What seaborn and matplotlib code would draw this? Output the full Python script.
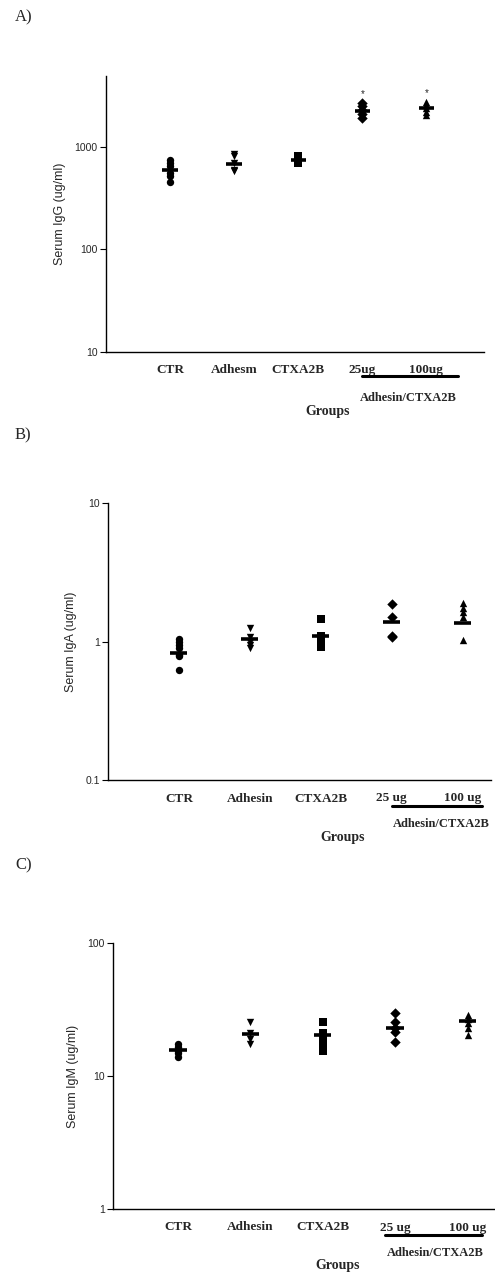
import matplotlib
matplotlib.use("Agg")
import matplotlib.pyplot as plt
import seaborn as sns
import pandas as pd
import numpy as np

sns.set_theme(style="white")
plt.rcParams['font.family'] = ['Liberation Sans', 'DejaVu Sans']

# --- dados ---
markers = ['o', 'v', 's', 'D', '^']

# A) IgG
igg_labels = ['CTR', 'Adhesm', 'CTXA2B', '25ug', '100ug']
igg_ctr = [740, 700, 650, 560, 520, 450]
igg_adh = [860, 820, 700, 600, 580]
igg_ctx = [820, 780, 750, 720, 690]
igg_25 = [2700, 2500, 2300, 2100, 1900]
igg_100 = [2750, 2550, 2400, 2200, 2050]
igg_means = [590, 680, 750, 2220, 2370]
igg_star = [None, None, None, 3300, 3350]

# B) IgA
iga_labels = ['CTR', 'Adhesin', 'CTXA2B', '25 ug', '100 ug']
iga_ctr = [1.05, 1.0, 0.95, 0.9, 0.8, 0.78, 0.62]
iga_adh = [1.25, 1.08, 1.0, 0.95, 0.9]
iga_ctx = [1.45, 1.1, 1.02, 0.97, 0.92]
iga_25 = [1.88, 1.5, 1.1, 1.08]
iga_100 = [1.9, 1.75, 1.62, 1.5, 1.02]
iga_means = [0.82, 1.05, 1.1, 1.39, 1.37]

# C) IgM
igm_labels = ['CTR', 'Adhesin', 'CTXA2B', '25 ug', '100 ug']
igm_ctr = [17.5, 16.5, 15.5, 15.0, 14.0]
igm_adh = [25.5, 21.0, 19.0, 17.5]
igm_ctx = [25.5, 21.0, 19.0, 17.0, 15.5]
igm_25 = [30.0, 25.5, 23.0, 21.5, 18.0]
igm_100 = [29.0, 27.0, 25.0, 23.0, 20.5]
igm_means = [15.7, 20.7, 20.3, 23.0, 25.9]


def make_df(labels, groups):
    rows = []
    for lab, vals in zip(labels, groups):
        for v in vals:
            rows.append({'group': lab, 'value': v})
    return pd.DataFrame(rows)


def draw_panel(fig, rect, labels, groups, means, ylim, yticks, yticklabels,
               ylabel, xlim, panel, panel_xy, bar_x, bar_y, sub_x, sub_y,
               groups_xy, stars=None):
    ax = fig.add_axes(rect)
    df = make_df(labels, groups)
    for lab, m in zip(labels, markers):
        sub = df[df['group'] == lab]
        sns.stripplot(data=sub, x='group', y='value', order=labels, marker=m,
                      color='black', jitter=False, size=5.3, ax=ax)
    ax.set_yscale('log')
    # linha da média
    pos = np.arange(len(labels))
    ax.hlines(means, pos - 0.12, pos + 0.12, color='black', linewidth=2.6)
    if stars is not None:
        for i, s in enumerate(stars):
            if s is not None:
                ax.text(i, s, '*', ha='center', va='center', fontsize=7)
    ax.set_ylim(*ylim)
    ax.set_xlim(*xlim)
    ax.set_yticks(yticks)
    ax.set_yticklabels(yticklabels, fontsize=7.5)
    ax.yaxis.set_minor_locator(matplotlib.ticker.NullLocator())
    ax.tick_params(axis='y', left=True, length=4, width=0.8, pad=2, color='black')
    ax.tick_params(axis='x', bottom=False, length=0, pad=9)
    ax.set_xticks(range(len(labels)))
    ax.set_xticklabels(labels, fontsize=9.5, fontweight='bold', family='Liberation Serif')
    ax.set_xlabel('')
    ax.set_ylabel(ylabel, fontsize=9, labelpad=6)
    for side in ['top', 'right']:
        ax.spines[side].set_visible(False)
    for side in ['left', 'bottom']:
        ax.spines[side].set_color('black')
        ax.spines[side].set_linewidth(1.0)
    # barra sob 25 ug / 100 ug
    ax.plot(bar_x, [bar_y, bar_y], color='black', linewidth=2.2,
            transform=ax.get_xaxis_transform(), clip_on=False)
    ax.text(sub_x, sub_y, 'Adhesin/CTXA2B', transform=ax.get_xaxis_transform(),
            ha='center', va='center', fontsize=9, fontweight='bold', family='Liberation Serif')
    fig.text(groups_xy[0], groups_xy[1], 'Groups', ha='center', va='center',
             fontsize=10, fontweight='bold', family='Liberation Serif')
    fig.text(panel_xy[0], panel_xy[1], panel, ha='left', va='center',
             fontsize=12, family='Liberation Serif')
    return ax


W, H = 495, 1273
fig = plt.figure(figsize=(W / 100, H / 100), dpi=100)

draw_panel(fig, [106 / W, 1 - 352 / H, 378 / W, 276 / H], igg_labels,
           [igg_ctr, igg_adh, igg_ctx, igg_25, igg_100], igg_means,
           (10, 4900), [10, 100, 1000], ['10', '100', '1000'],
           'Serum IgG (ug/ml)', (-1.0, 4.9), 'A)', (15 / W, 1 - 17 / H),
           [3.0, 4.5], -0.087, 3.72, -0.167, (328 / W, 1 - 412 / H),
           stars=igg_star)

draw_panel(fig, [108 / W, 1 - 780 / H, 383 / W, 277 / H], iga_labels,
           [iga_ctr, iga_adh, iga_ctx, iga_25, iga_100], iga_means,
           (0.1, 10), [0.1, 1, 10], ['0.1', '1', '10'],
           'Serum IgA (ug/ml)', (-1.0, 4.4), 'B)', (15 / W, 1 - 435 / H),
           [3.01, 4.28], -0.094, 3.7, -0.159, (343 / W, 1 - 837 / H))

draw_panel(fig, [113 / W, 1 - 1209 / H, 382 / W, 266 / H], igm_labels,
           [igm_ctr, igm_adh, igm_ctx, igm_25, igm_100], igm_means,
           (1, 100), [1, 10, 100], ['1', '10', '100'],
           'Serum IgM (ug/ml)', (-0.9, 4.38), 'C)', (15 / W, 1 - 865 / H),
           [2.86, 4.2], -0.098, 3.55, -0.165, (338 / W, 1 - 1265 / H))

fig.savefig('out.png', dpi=100)
